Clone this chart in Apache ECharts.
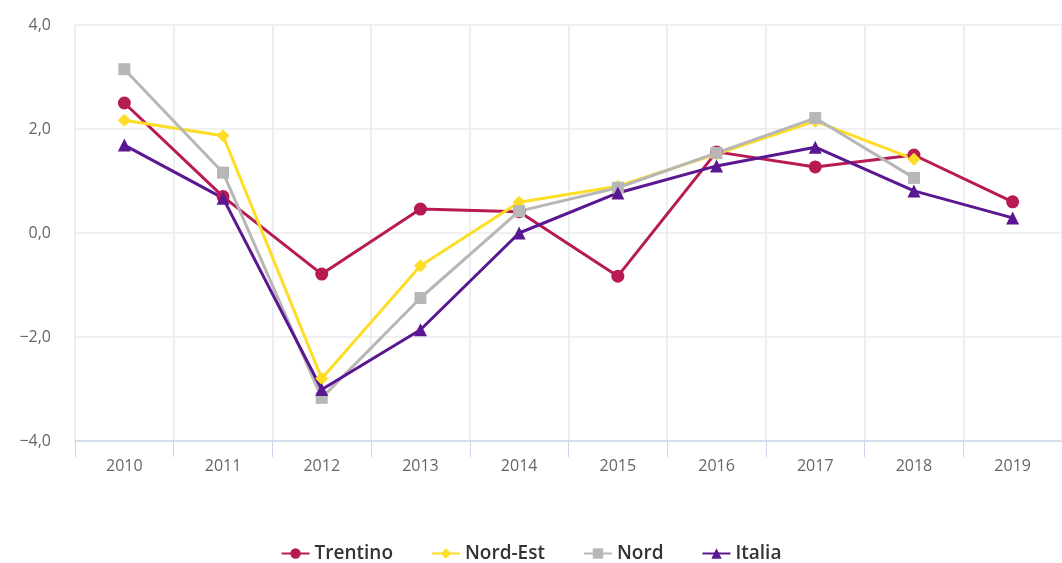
<!DOCTYPE html>
<html>
<head>
<meta charset="utf-8">
<script src="https://cdn.jsdelivr.net/npm/echarts@6/dist/echarts.min.js"></script>
<style>
  html, body { margin: 0; padding: 0; background: #fff; }
  #chart { width: 1062px; height: 563px; }
</style>
</head>
<body>
<div id="chart"></div>
<script>
// anni e serie
var years = ['2010', '2011', '2012', '2013', '2014', '2015', '2016', '2017', '2018', '2019'];
var trentino = [2.5, 0.7, -0.79, 0.46, 0.41, -0.83, 1.56, 1.27, 1.5, 0.6];
var nordEst = [2.17, 1.87, -2.8, -0.63, 0.59, 0.9, 1.52, 2.15, 1.42, null];
var nord = [3.15, 1.16, -3.17, -1.25, 0.42, 0.87, 1.54, 2.21, 1.06, null];
var italia = [1.69, 0.67, -3.01, -1.86, 0.0, 0.77, 1.29, 1.65, 0.81, 0.29];
var yTicks = [-4, -2, 0, 2, 4];

function fmt(v) {
    var s = Math.abs(v).toFixed(1).replace('.', ',');
    return v < 0 ? '\u2212' + s : s;
}

function serie(name, data, color, symbol, size) {
    return {
        name: name,
        type: 'line',
        data: data,
        symbol: symbol,
        symbolSize: size,
        connectNulls: false,
        lineStyle: { width: 3, color: color },
        itemStyle: { color: color },
        emphasis: { disabled: true }
    };
}

let chart = echarts.init(document.getElementById('chart'));
chart.setOption({
    animation: false,
    textStyle: { fontFamily: '"Open Sans", sans-serif' },
    grid: { left: 75, right: 0, top: 25, bottom: 122 },
    legend: {
        top: 539,
        left: 'center',
        itemGap: 38,
        itemWidth: 28,
        itemHeight: 13,
        textStyle: { fontSize: 19, color: '#333', fontWeight: 600 },
        data: ['Trentino', 'Nord-Est', 'Nord', 'Italia']
    },
    xAxis: {
        type: 'category',
        data: years,
        boundaryGap: true,
        axisLine: { onZero: false, lineStyle: { color: '#ccd6eb', width: 1.5 } },
        axisTick: { show: true, length: 16, lineStyle: { color: '#ccd6eb' } },
        axisLabel: { color: '#666', fontSize: 16, margin: 17 },
        splitLine: { show: true, lineStyle: { color: '#e6e9f0', width: 1.5 } }
    },
    yAxis: {
        type: 'value',
        min: yTicks[0],
        max: yTicks[yTicks.length - 1],
        interval: 2,
        axisLine: { show: false },
        axisTick: { show: false },
        axisLabel: { color: '#666', fontSize: 16, margin: 24, formatter: fmt },
        splitLine: { lineStyle: { color: '#ebebeb', width: 1.5 } }
    },
    series: [
        serie('Trentino', trentino, '#b81a53', 'circle', 13),
        serie('Nord-Est', nordEst, '#fddd25', 'diamond', 13),
        serie('Nord', nord, '#b7b7b7', 'rect', 12),
        serie('Italia', italia, '#5a1791', 'triangle', 13)
    ]
});
</script>
</body>
</html>
